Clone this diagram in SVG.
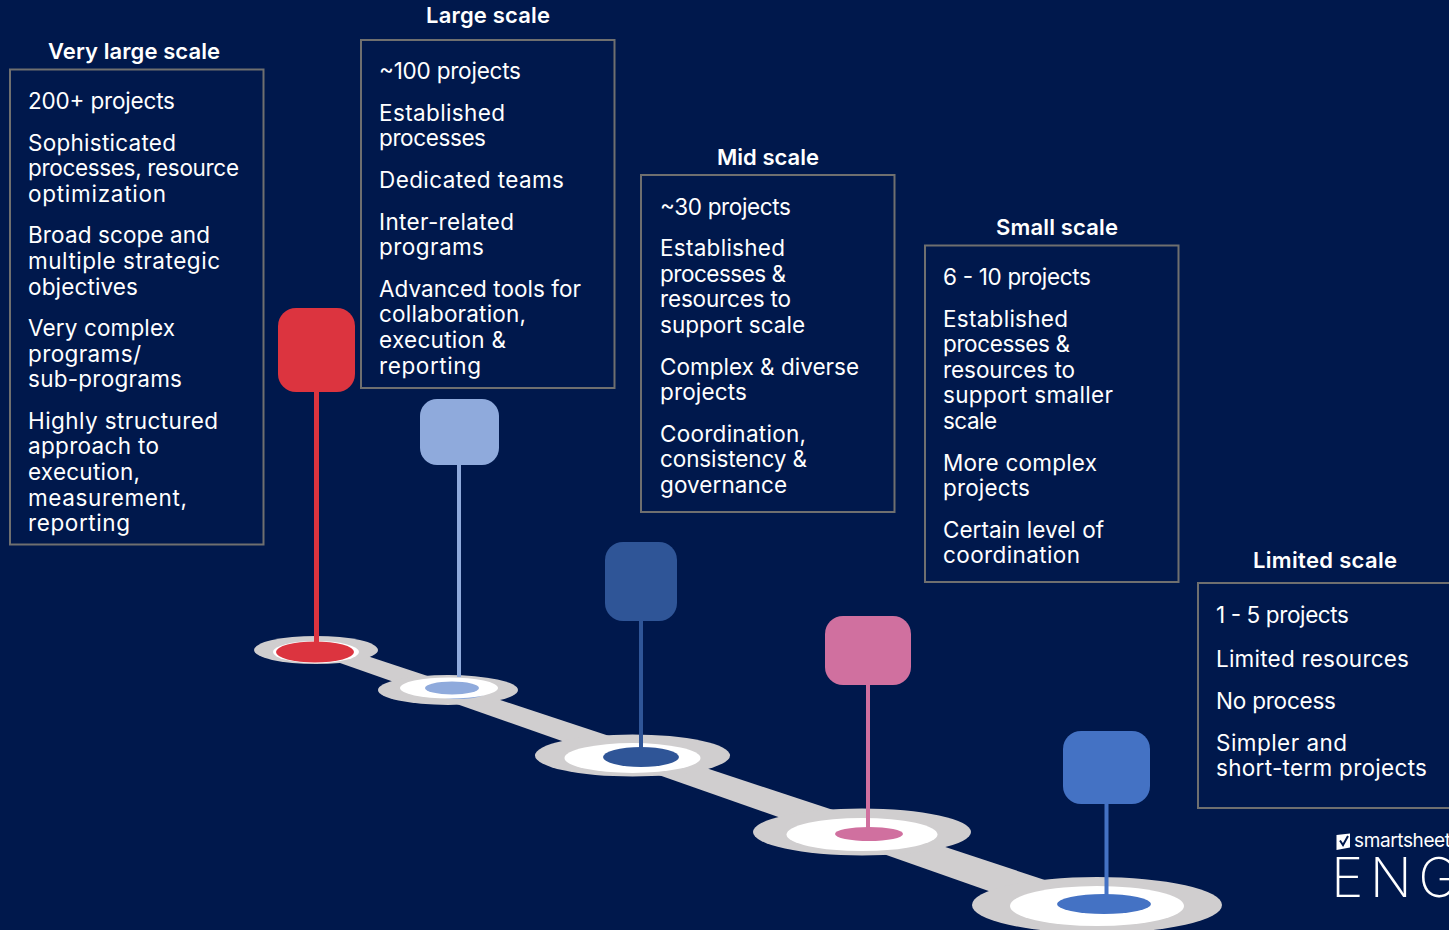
<svg xmlns="http://www.w3.org/2000/svg" width="1449" height="930" viewBox="0 0 1449 930">
<style>
text{font-family:Inter,"Open Sans","Liberation Sans",sans-serif;fill:#fff}
.b{font-size:22.5px;font-weight:400;transform:translateY(.7px)}
.t{font-size:22px;font-weight:600}
.box{fill:none;stroke:#6f6f6f;stroke-width:2}
.g{fill:#d0cecf}
.w{fill:#fff}
.pole{stroke-width:4;fill:none}
</style>
<rect width="1449" height="930" fill="#00184c"/>
<g id="connectors">
<polygon class="g" points="340,647 1060,885 1000,895 340,663"/>
<g id="disc-very-large"><ellipse class="g" cx="316" cy="650" rx="62" ry="14"/><ellipse class="w" cx="316" cy="652" rx="43" ry="11"/><ellipse cx="315" cy="652" rx="39" ry="10.500" fill="#dc343f"/></g>
<g id="disc-large"><ellipse class="g" cx="448" cy="690" rx="70" ry="15"/><ellipse cx="459" cy="691" rx="28" ry="8" fill="#8faadc"/><ellipse class="w" cx="449" cy="688" rx="49" ry="10.500"/><ellipse cx="452" cy="688" rx="27" ry="6.500" fill="#8faadc"/></g>
<g id="disc-mid"><ellipse class="g" cx="632.500" cy="755.500" rx="97.500" ry="21"/><ellipse class="w" cx="632.500" cy="758" rx="68" ry="15"/><ellipse cx="641" cy="757" rx="38" ry="10" fill="#2f5597"/></g>
<g id="disc-small"><ellipse class="g" cx="862" cy="832" rx="109" ry="23.500"/><ellipse class="w" cx="862" cy="834.500" rx="75.500" ry="16.500"/><ellipse cx="869" cy="834" rx="34" ry="7" fill="#d0709f"/></g>
<g id="disc-limited"><ellipse class="g" cx="1097" cy="905" rx="125" ry="28"/><ellipse class="w" cx="1097" cy="906" rx="87" ry="20"/><ellipse cx="1104" cy="904" rx="47" ry="10" fill="#4472c4"/></g>
<line class="pole" x1="316.500" y1="390" x2="316.500" y2="642" stroke="#dc343f" style="stroke-width:5"/>
<line class="pole" x1="459" y1="463" x2="459" y2="677" stroke="#8faadc"/>
<line class="pole" x1="641" y1="619" x2="641" y2="750" stroke="#2f5597"/>
<line class="pole" x1="868" y1="683" x2="868" y2="829" stroke="#d0709f"/>
<line class="pole" x1="1106.500" y1="802" x2="1106.500" y2="896" stroke="#4472c4"/>
</g>
<g id="node-very-large">
<rect x="278" y="308" width="77" height="84" rx="18" fill="#dc343f"/>
<rect class="box" x="10" y="69.500" width="253.500" height="475"/>
<text class="t" x="48" y="59" textLength="172">Very large scale</text>
<g class="b">
<text x="28" y="108" textLength="147">200+ projects</text>
<text x="28" y="150" textLength="148">Sophisticated</text>
<text x="28" y="175" textLength="211">processes, resource</text>
<text x="28" y="201" textLength="138">optimization</text>
<text x="28" y="242" textLength="182">Broad scope and</text>
<text x="28" y="268" textLength="192">multiple strategic</text>
<text x="28" y="294" textLength="110">objectives</text>
<text x="28" y="335" textLength="147">Very complex</text>
<text x="28" y="361" textLength="113">programs/</text>
<text x="28" y="386" textLength="154">sub-programs</text>
<text x="28" y="428" textLength="190">Highly structured</text>
<text x="28" y="453" textLength="131">approach to</text>
<text x="28" y="479" textLength="112">execution,</text>
<text x="28" y="505" textLength="159">measurement,</text>
<text x="28" y="530" textLength="102">reporting</text>
</g>
</g>
<g id="node-large">
<rect x="420" y="399" width="79" height="66" rx="17" fill="#8faadc"/>
<rect class="box" x="361" y="40" width="253.500" height="348"/>
<text class="t" x="426" y="23" textLength="124">Large scale</text>
<g class="b">
<text x="379" y="78" textLength="142">~100 projects</text>
<text x="379" y="120" textLength="126">Established</text>
<text x="379" y="145" textLength="107">processes</text>
<text x="379" y="187" textLength="185">Dedicated teams</text>
<text x="379" y="229" textLength="135">Inter-related</text>
<text x="379" y="254" textLength="105">programs</text>
<text x="379" y="296" textLength="202">Advanced tools for</text>
<text x="379" y="321" textLength="147">collaboration,</text>
<text x="379" y="347" textLength="127">execution &amp;</text>
<text x="379" y="373" textLength="102">reporting</text>
</g>
</g>
<g id="node-mid">
<rect x="605" y="542" width="72" height="79" rx="18" fill="#2f5597"/>
<rect class="box" x="641" y="175" width="253.500" height="337"/>
<text class="t" x="717" y="165" textLength="102">Mid scale</text>
<g class="b">
<text x="660" y="214" textLength="131">~30 projects</text>
<text x="660" y="255" textLength="125">Established</text>
<text x="660" y="281" textLength="126">processes &amp;</text>
<text x="660" y="306" textLength="131">resources to</text>
<text x="660" y="332" textLength="145">support scale</text>
<text x="660" y="374" textLength="199">Complex &amp; diverse</text>
<text x="660" y="399" textLength="87">projects</text>
<text x="660" y="441" textLength="146">Coordination,</text>
<text x="660" y="466" textLength="147">consistency &amp;</text>
<text x="660" y="492" textLength="127">governance</text>
</g>
</g>
<g id="node-small">
<rect x="825" y="616" width="86" height="69" rx="18" fill="#d0709f"/>
<rect class="box" x="925" y="245.500" width="253.500" height="336.500"/>
<text class="t" x="996" y="235" textLength="122">Small scale</text>
<g class="b">
<text x="943" y="284" textLength="148">6 - 10 projects</text>
<text x="943" y="326" textLength="125">Established</text>
<text x="943" y="351" textLength="127">processes &amp;</text>
<text x="943" y="377" textLength="132">resources to</text>
<text x="943" y="402" textLength="170">support smaller</text>
<text x="943" y="428" textLength="54">scale</text>
<text x="943" y="470" textLength="154">More complex</text>
<text x="943" y="495" textLength="87">projects</text>
<text x="943" y="537" textLength="161">Certain level of</text>
<text x="943" y="562" textLength="137">coordination</text>
</g>
</g>
<g id="node-limited">
<rect x="1063" y="731" width="87" height="73" rx="18" fill="#4472c4"/>
<rect class="box" x="1198" y="583" width="260" height="225"/>
<text class="t" x="1253" y="568" textLength="144">Limited scale</text>
<g class="b">
<text x="1216" y="622" textLength="133">1 - 5 projects</text>
<text x="1216" y="666" textLength="193">Limited resources</text>
<text x="1216" y="708" textLength="120">No process</text>
<text x="1216" y="750" textLength="131">Simpler and</text>
<text x="1216" y="775" textLength="211">short-term projects</text>
</g>
</g>
<g id="logo">
<polygon points="1336.500,835 1350,833.500 1350,847.500 1336.500,850" fill="#fff"/>
<path d="M1340,840.500l3,4.500l5,-9" fill="none" stroke="#00184c" stroke-width="2"/>
<text x="1354" y="847" font-size="19" font-weight="400" textLength="97">smartsheet</text>
<text x="1331" y="897" font-size="55" font-weight="200" textLength="128">ENG</text>
</g>
</svg>
